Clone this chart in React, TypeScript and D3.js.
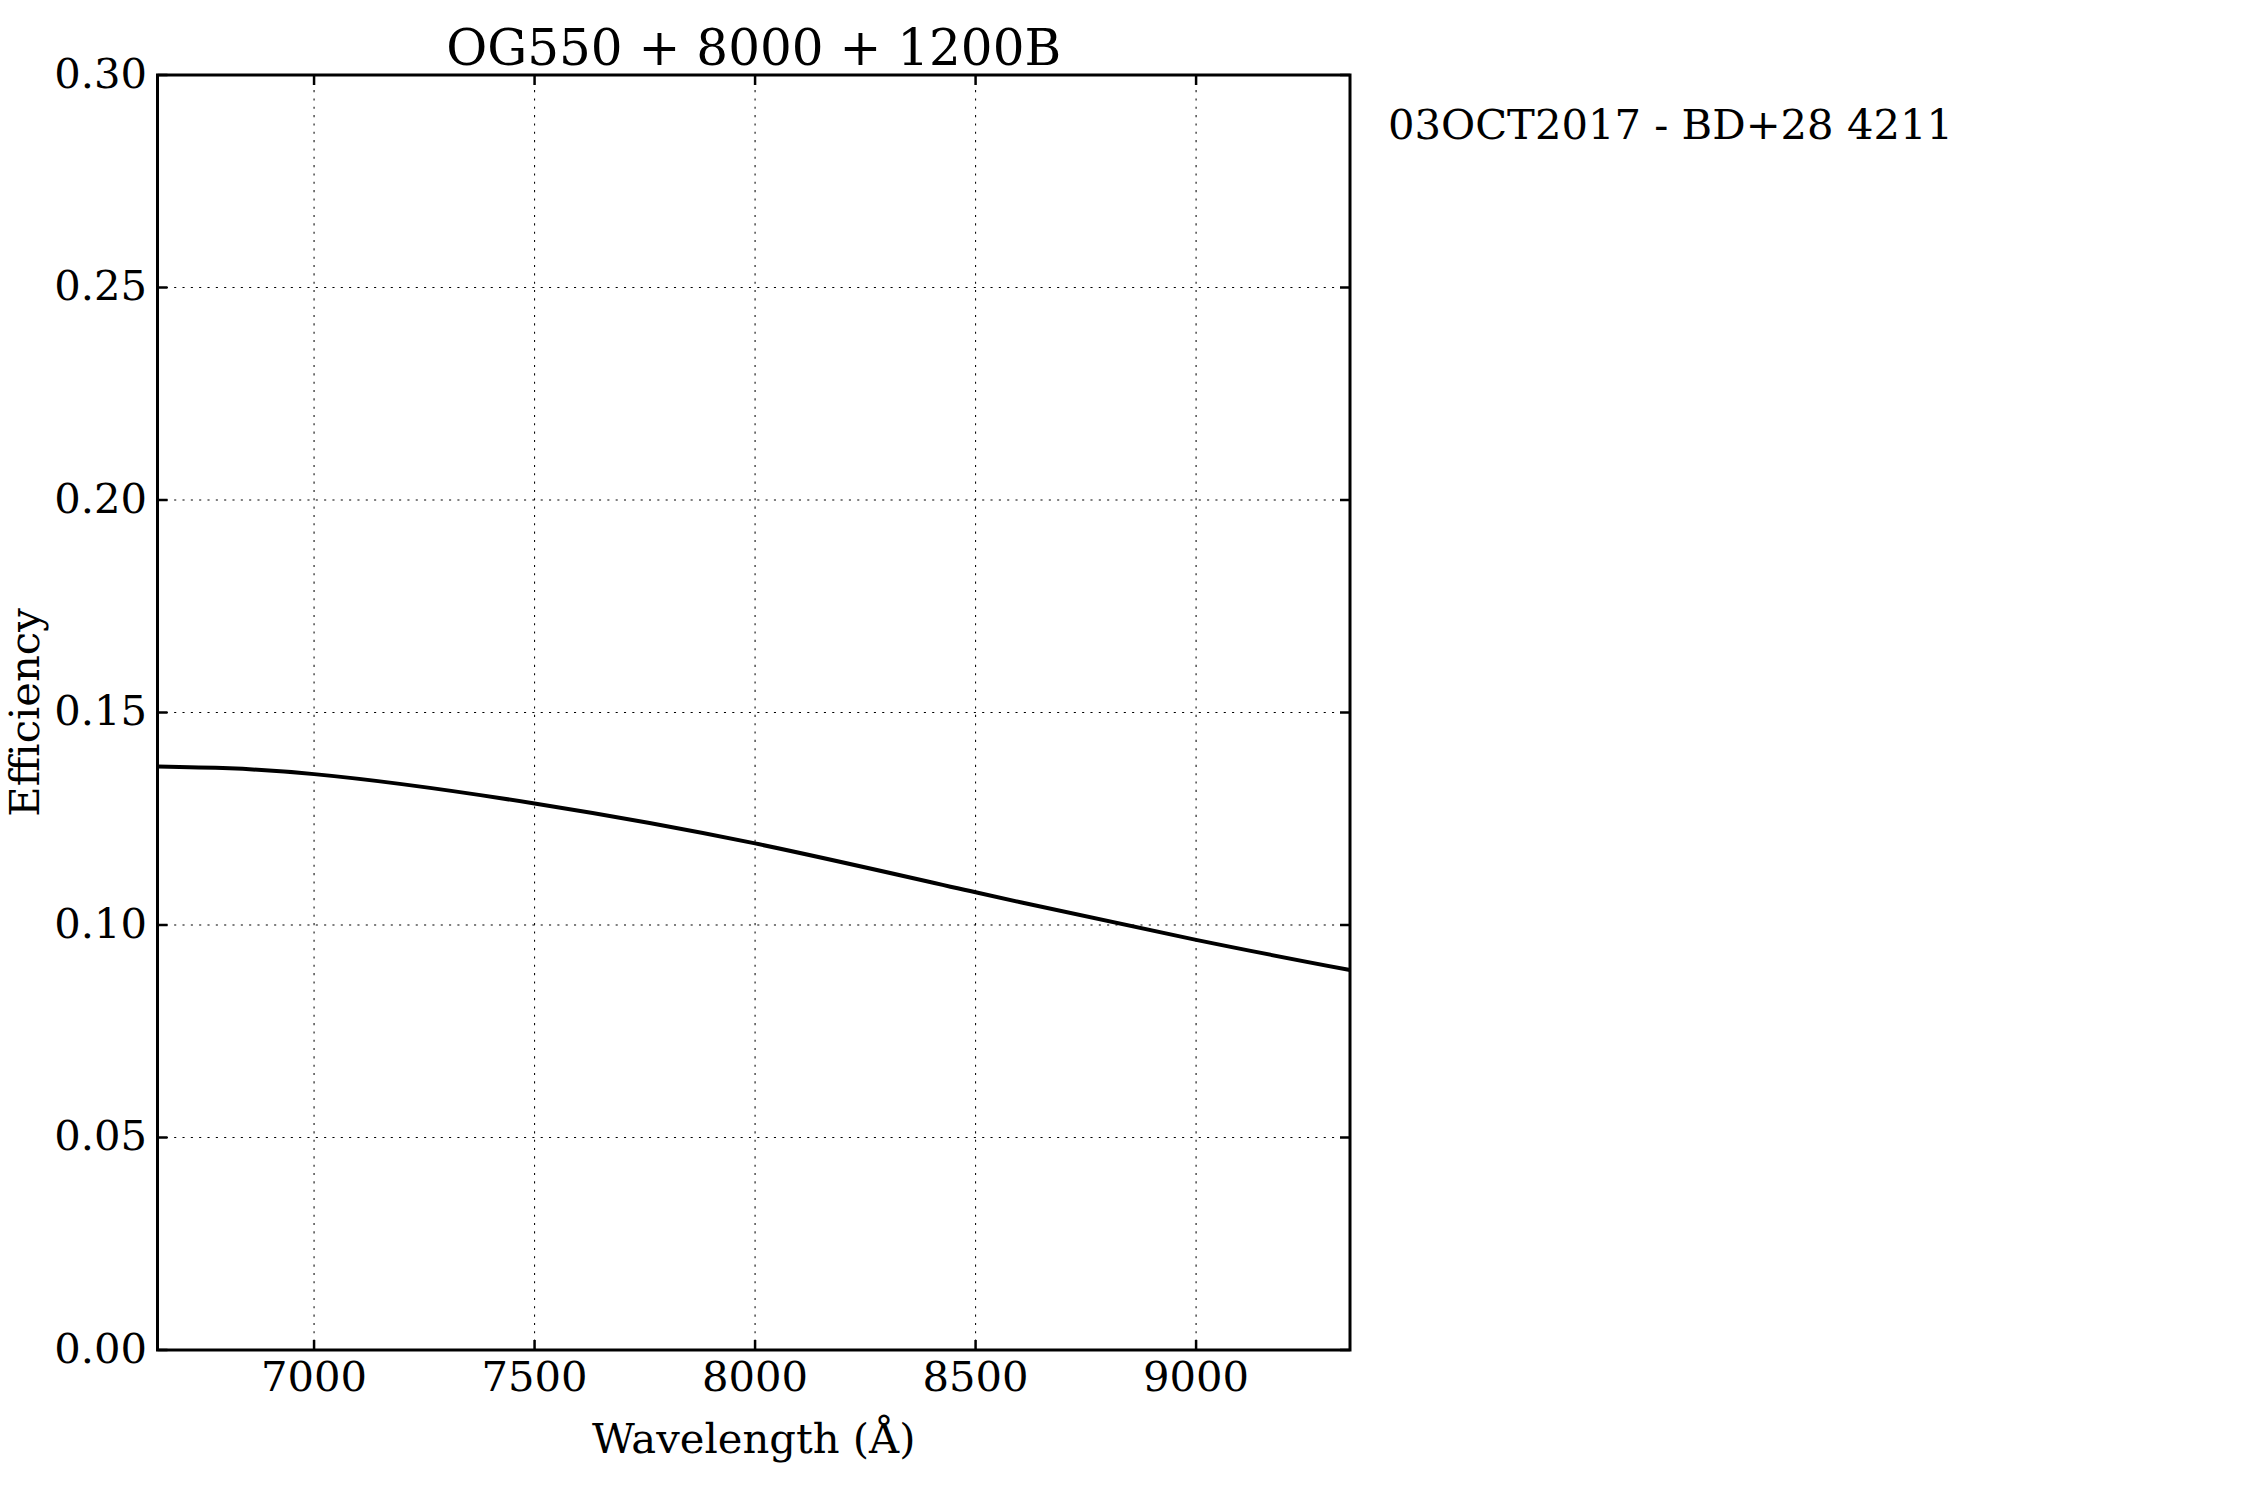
import React, { useRef, useEffect } from 'react';
import * as d3 from 'd3';

// throughput curve
const wavelength = [6645, 7000, 7500, 8000, 8500, 9000, 9349];
const efficiency = [0.1373, 0.1355, 0.1286, 0.1192, 0.1077, 0.0965, 0.0894];

const xTicks = [7000, 7500, 8000, 8500, 9000];
const yTicks = [0, 0.05, 0.1, 0.15, 0.2, 0.25, 0.3];

const title = 'OG550 + 8000 + 1200B';
const note = '03OCT2017 - BD+28 4211';

const App: React.FC = () => {
  const svgRef = useRef<SVGSVGElement | null>(null);

  useEffect(() => {
    document.body.style.margin = '0';
    const svg = d3.select(svgRef.current);
    svg.selectAll('*').remove();

    const width = 2250;
    const height = 1500;
    const left = 157.5;
    const right = 1350;
    const top = 75;
    const bottom = 1350;
    const font = 'DejaVu Serif';
    const fs = 41.7;

    svg.attr('width', width).attr('height', height);
    svg.append('rect').attr('width', width).attr('height', height).attr('fill', 'white');

    const x = d3.scaleLinear().domain([6645, 9349]).range([left, right]);
    const y = d3.scaleLinear().domain([0, 0.3]).range([bottom, top]);

    // dotted grid
    const grid = svg.append('g').attr('stroke', 'black').attr('stroke-width', 1.04).attr('stroke-dasharray', '2.08 6.25');
    xTicks.forEach((t) => {
      grid.append('line').attr('x1', x(t)).attr('x2', x(t)).attr('y1', bottom).attr('y2', top);
    });
    yTicks.forEach((t) => {
      grid.append('line').attr('x1', left).attr('x2', right).attr('y1', y(t)).attr('y2', y(t));
    });

    // curve
    const line = d3
      .line<number>()
      .x((d, i) => x(wavelength[i]))
      .y((d) => y(d))
      .curve(d3.curveNatural);
    svg
      .append('path')
      .datum(efficiency)
      .attr('d', line)
      .attr('fill', 'none')
      .attr('stroke', 'black')
      .attr('stroke-width', 4);

    // inward ticks on all four sides
    const tl = 10;
    const ticks = svg.append('g').attr('stroke', 'black').attr('stroke-width', 2.5);
    xTicks.forEach((t) => {
      ticks.append('line').attr('x1', x(t)).attr('x2', x(t)).attr('y1', bottom).attr('y2', bottom - tl);
      ticks.append('line').attr('x1', x(t)).attr('x2', x(t)).attr('y1', top).attr('y2', top + tl);
    });
    yTicks.forEach((t) => {
      ticks.append('line').attr('x1', left).attr('x2', left + tl).attr('y1', y(t)).attr('y2', y(t));
      ticks.append('line').attr('x1', right).attr('x2', right - tl).attr('y1', y(t)).attr('y2', y(t));
    });

    // frame
    svg
      .append('rect')
      .attr('x', left)
      .attr('y', top)
      .attr('width', right - left)
      .attr('height', bottom - top)
      .attr('fill', 'none')
      .attr('stroke', 'black')
      .attr('stroke-width', 3);

    // tick labels
    svg
      .append('g')
      .selectAll('text')
      .data(xTicks)
      .enter()
      .append('text')
      .attr('x', (d) => x(d))
      .attr('y', 1391)
      .attr('text-anchor', 'middle')
      .attr('font-family', font)
      .attr('font-size', fs)
      .text((d) => String(d));

    svg
      .append('g')
      .selectAll('text')
      .data(yTicks)
      .enter()
      .append('text')
      .attr('x', 147)
      .attr('y', (d) => y(d))
      .attr('dy', '0.3em')
      .attr('text-anchor', 'end')
      .attr('font-family', font)
      .attr('font-size', fs)
      .text((d) => d.toFixed(2));

    // labels
    svg
      .append('text')
      .attr('x', (left + right) / 2)
      .attr('y', 1453)
      .attr('text-anchor', 'middle')
      .attr('font-family', font)
      .attr('font-size', fs)
      .text('Wavelength (Å)');

    svg
      .append('text')
      .attr('transform', `translate(39, ${(top + bottom) / 2}) rotate(-90)`)
      .attr('text-anchor', 'middle')
      .attr('font-family', font)
      .attr('font-size', fs)
      .text('Efficiency');

    svg
      .append('text')
      .attr('x', (left + right) / 2)
      .attr('y', 65)
      .attr('text-anchor', 'middle')
      .attr('font-family', font)
      .attr('font-size', 50)
      .text(title);

    svg
      .append('text')
      .attr('x', 1388)
      .attr('y', 139)
      .attr('font-family', font)
      .attr('font-size', fs)
      .text(note);
  }, []);

  return <svg ref={svgRef}></svg>;
};

export default App;
